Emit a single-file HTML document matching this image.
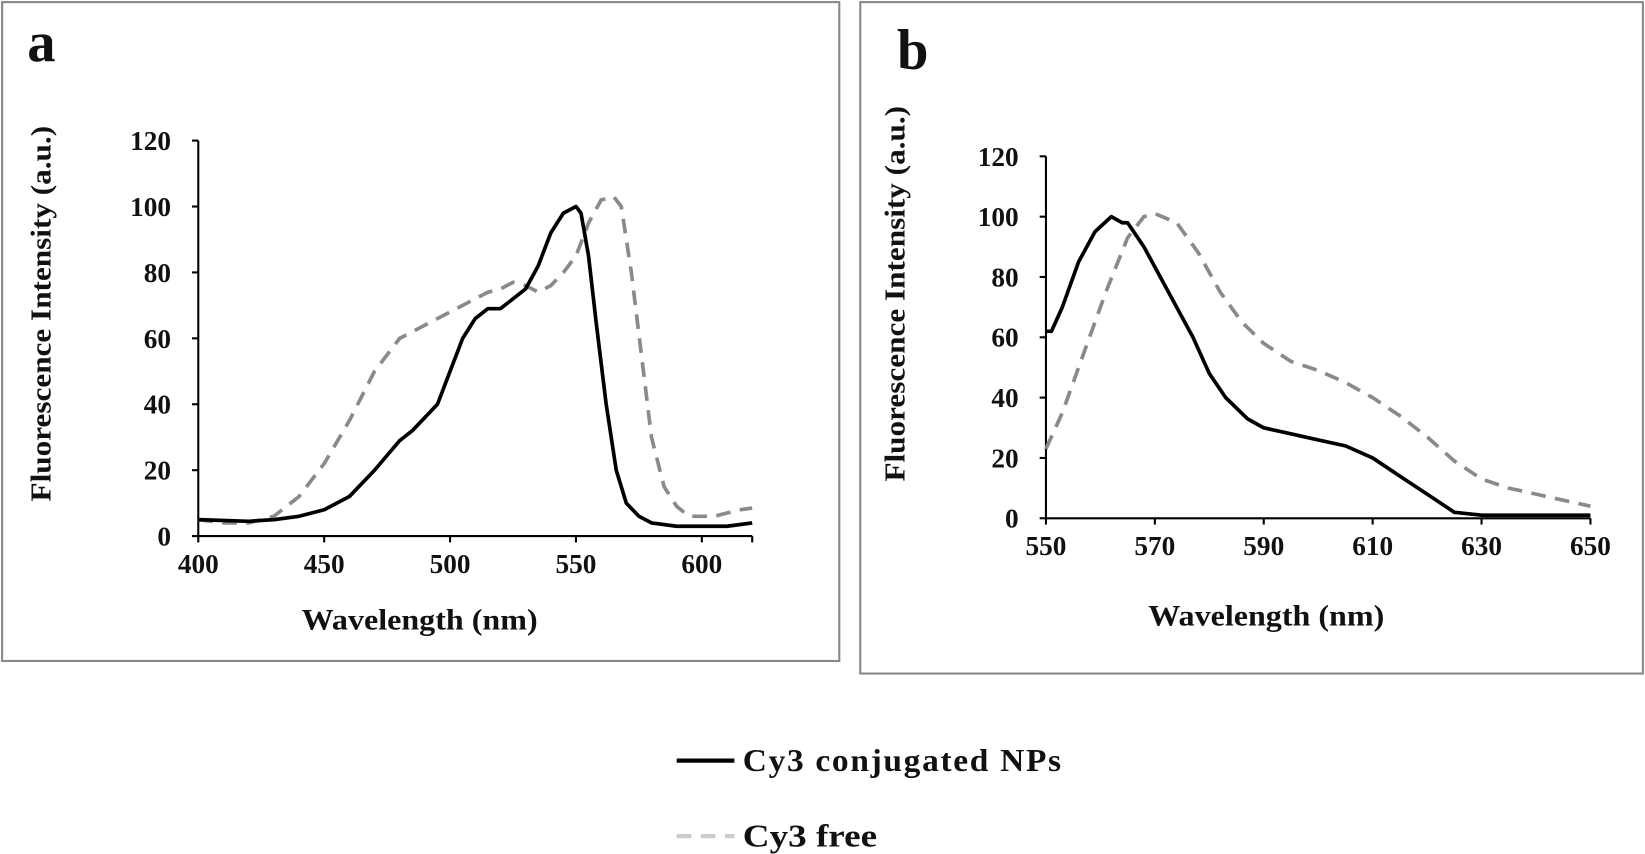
<!DOCTYPE html>
<html><head><meta charset="utf-8"><style>
html,body{margin:0;padding:0;background:#fff;width:1645px;height:854px;overflow:hidden}
svg text{font-family:"Liberation Serif",serif;font-weight:bold;fill:#111}
</style></head><body>
<svg id="s" width="1645" height="854" viewBox="0 0 1568 814" xmlns="http://www.w3.org/2000/svg">
<rect x="2" y="2" width="798" height="628" fill="none" stroke="#888" stroke-width="2"/>
<rect x="820" y="2" width="746" height="640" fill="none" stroke="#888" stroke-width="2"/>
<text x="26" y="58" font-size="54">a</text>
<text x="855" y="66" font-size="54">b</text>
<g id="ga"></g><g id="gb"></g>
<line x1="645" y1="725" x2="700" y2="725" stroke="#000" stroke-width="4"/>
<text x="708" y="735" font-size="30" letter-spacing="1.5" textLength="305" lengthAdjust="spacingAndGlyphs">Cy3 conjugated NPs</text>
<line x1="645" y1="797" x2="700" y2="797" stroke="#ccc" stroke-width="4" stroke-dasharray="14,9"/>
<text x="708" y="807" font-size="30" textLength="128" lengthAdjust="spacingAndGlyphs">Cy3 free</text>
</svg>
<script>
function panel(g,o){
  var h="";
  function X(v){return o.x0+(v-o.xmin)*(o.x1-o.x0)/(o.xmax-o.xmin);}
  function Y(v){return o.y0-v*(o.y0-o.y1)/120;}
  h+='<line x1="'+o.x0+'" y1="'+o.y1+'" x2="'+o.x0+'" y2="'+o.y0+'" stroke="#000" stroke-width="2"/>';
  h+='<line x1="'+o.x0+'" y1="'+o.y0+'" x2="'+o.x1+'" y2="'+o.y0+'" stroke="#000" stroke-width="2"/>';
  for(var v=0;v<=120;v+=20){var y=Y(v);h+='<line x1="'+(o.x0-6)+'" y1="'+y+'" x2="'+o.x0+'" y2="'+y+'" stroke="#000" stroke-width="2"/>';
    h+='<text x="'+(o.x0-26)+'" y="'+(y+9)+'" font-size="26" text-anchor="end">'+v+'</text>';}
  o.xt.forEach(function(v){var x=X(v);h+='<line x1="'+x+'" y1="'+o.y0+'" x2="'+x+'" y2="'+(o.y0+6)+'" stroke="#000" stroke-width="2"/>';
    h+='<text x="'+x+'" y="'+(o.y0+35)+'" font-size="26" text-anchor="middle">'+v+'</text>';});
  if(o.xextra){var x=X(o.xextra);h+='<line x1="'+x+'" y1="'+o.y0+'" x2="'+x+'" y2="'+(o.y0+6)+'" stroke="#000" stroke-width="2"/>';}
  h+='<text x="'+o.xl[0]+'" y="'+o.xl[1]+'" font-size="28" text-anchor="middle" textLength="225" lengthAdjust="spacingAndGlyphs">Wavelength (nm)</text>';
  h+='<text transform="translate('+o.yl[0]+','+o.yl[1]+') rotate(-90)" font-size="27" text-anchor="middle" textLength="358" lengthAdjust="spacingAndGlyphs">Fluorescence Intensity (a.u.)</text>';
  function path(d){return d.map(function(p,i){return (i?'L':'M')+X(p[0]).toFixed(1)+','+Y(p[1]).toFixed(1);}).join('');}
  h+='<path d="'+path(o.g)+'" fill="none" stroke="#8a8a8a" stroke-width="3.5" stroke-dasharray="14,9"/>';
  h+='<path d="'+path(o.b)+'" fill="none" stroke="#000" stroke-width="3.5" stroke-linejoin="round"/>';
  document.getElementById(g).innerHTML=h;
}
panel("ga",{x0:189,x1:717,xmin:400,xmax:620,y0:511,y1:134,xt:[400,450,500,550,600],xextra:620,xl:[400,600],yl:[48,299],
 b:[[400,5],[420,4.5],[430,5],[440,6],[450,8],[460,12],[470,20],[480,29],[485,32],[495,40],[500,50],[505,60],[510,66],[515,69],[520,69],[525,72],[530,75],[535,82],[540,92],[545,98],[550,100],[552,98],[555,85],[558,65],[562,40],[566,20],[570,10],[575,6],[580,4],[590,3],[600,3],[610,3],[620,4]],
 g:[[400,5],[410,4],[420,4],[430,6],[440,12],[450,22],[460,35],[470,50],[480,60],[490,64],[500,68],[510,72],[515,74],[520,75],[525,77],[530,76],[535,74],[540,76],[545,80],[550,85],[555,95],[560,102],[565,103],[568,100],[572,80],[576,55],[580,30],[585,15],[590,9],[595,6],[605,6],[610,7],[615,8],[620,8.5]]});
panel("gb",{x0:997,x1:1516,xmin:550,xmax:650,y0:494,y1:149,xt:[550,570,590,610,630,650],xl:[1207,596],yl:[862,280],
 b:[[550,62],[551,62],[553,70],[556,85],[559,95],[562,100],[564,98],[565,98],[568,90],[571,80],[574,70],[577,60],[580,48],[583,40],[587,33],[590,30],[595,28],[600,26],[605,24],[610,20],[615,14],[620,8],[625,2],[630,1],[650,1]],
 g:[[550,23],[553,35],[557,55],[561,75],[565,93],[568,100],[570,101],[574,98],[578,88],[582,75],[586,65],[590,58],[595,52],[600,49],[605,45],[610,40],[615,34],[620,27],[625,19],[630,13],[635,10],[640,8],[645,6],[650,4]]});
</script>
</body></html>
